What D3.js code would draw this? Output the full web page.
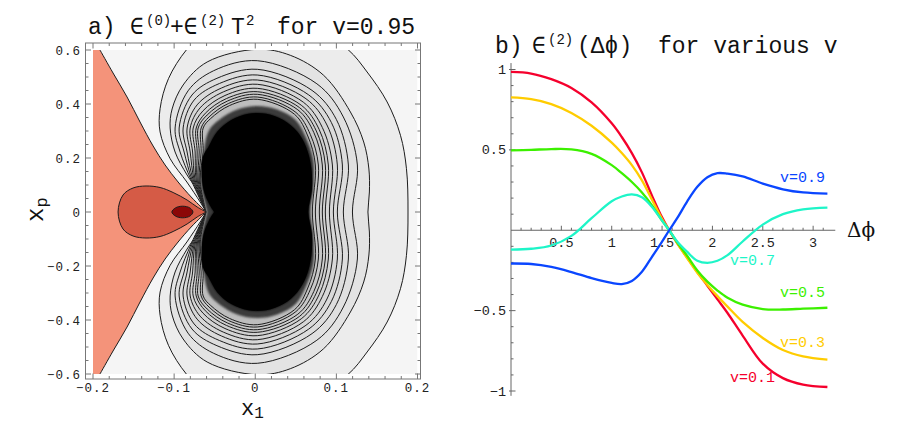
<!DOCTYPE html>
<html><head><meta charset="utf-8">
<script src="https://cdn.jsdelivr.net/npm/d3@7"></script>
<style>body{margin:0;background:#fff}svg{display:block}</style>
</head><body>
<svg id="c" width="900" height="428"></svg>
<script>
// ================= DATA =================
// Panel b: epsilon^(2)(delta phi) for various v
const phi   = [0,0.2,0.4,0.6,0.8,1.0,1.1,1.2,1.3,1.4,1.5,1.5708,1.65,1.75,1.85,1.95,2.05,2.15,2.3,2.5,2.7,2.9,3.1416];
const eps01 = [0.985,0.975,0.94,0.885,0.795,0.665,0.58,0.48,0.36,0.215,0.08,0,-0.08,-0.17,-0.26,-0.345,-0.43,-0.515,-0.655,-0.83,-0.92,-0.96,-0.975];
const eps03 = [0.826,0.815,0.785,0.73,0.65,0.545,0.48,0.405,0.31,0.19,0.07,0,-0.08,-0.175,-0.265,-0.34,-0.41,-0.475,-0.57,-0.67,-0.745,-0.785,-0.805];
const eps05 = [0.497,0.5,0.505,0.503,0.475,0.405,0.355,0.3,0.235,0.155,0.06,0,-0.075,-0.16,-0.25,-0.32,-0.375,-0.42,-0.463,-0.49,-0.493,-0.488,-0.482];
const eps07 = [-0.12,-0.115,-0.095,-0.035,0.075,0.18,0.21,0.223,0.205,0.145,0.06,0,-0.07,-0.135,-0.19,-0.203,-0.19,-0.155,-0.07,0.035,0.1,0.13,0.141];
const eps09 = [-0.207,-0.21,-0.228,-0.26,-0.298,-0.328,-0.335,-0.315,-0.258,-0.165,-0.07,0,0.075,0.18,0.27,0.33,0.355,0.352,0.335,0.29,0.255,0.235,0.228];
const seriesNames = ["v=0.1","v=0.3","v=0.5","v=0.7","v=0.9"];
const labelPhi = [2.175,2.671,2.671,2.175,2.671];
const labelVal = [-0.946,-0.729,-0.418,-0.217,0.3];
const xTicksB = [0.5,1,1.5,2,2.5,3];
const xTickLabelsB = ["0.5","1","1.5","2","2.5","3"];
const yTicksB = [-1,-0.5,0.5,1];
const yTickLabelsB = ["\u22121","\u22120.5","0.5","1"];

// Panel a: traced contour lines of eps0+eps2 T^2 (v=0.95), upper halves [x1, xp]; the plot is mirror-symmetric in xp
const salmonEdge = [[-0.1914,0.6],[-0.1753,0.5148],[-0.158,0.4259],[-0.142,0.3333],[-0.1259,0.2444],[-0.1111,0.1741],[-0.0951,0.1111],[-0.079,0.0556],[-0.0667,0.0185],[-0.0605,0]];
const teardrop = [[-0.0605,0],[-0.0716,0.0185],[-0.084,0.0444],[-0.1012,0.0722],[-0.1173,0.0907],[-0.1346,0.0963],[-0.1506,0.0889],[-0.163,0.063],[-0.1691,0]];
const minimum = [[-0.0768,0],[-0.0806,0.0152],[-0.0895,0.0215],[-0.0984,0.0152],[-0.1028,0],[-0.0984,-0.0152],[-0.0895,-0.0215],[-0.0806,-0.0152]];
const contour1 = [[-0.0605,0],[-0.0679,0.037],[-0.0843,0.1111],[-0.1049,0.1974],[-0.1173,0.2963],[-0.1173,0.3826],[-0.107,0.4937],[-0.0843,0.6026],[-0.0494,0.7037],[0.0025,0.7333],[0.0617,0.7037],[0.114,0.6026],[0.1379,0.5185],[0.1626,0.4074],[0.179,0.2841],[0.1864,0.1604],[0.1883,0]];
const contour2 = [[-0.0605,0],[-0.0642,0.0481],[-0.084,0.137],[-0.0988,0.2222],[-0.1049,0.3111],[-0.1025,0.3815],[-0.0889,0.4704],[-0.0593,0.5556],[0.0025,0.6026],[0.0432,0.5804],[0.0843,0.5063],[0.1173,0.3704],[0.1337,0.2593],[0.1401,0.1593],[0.1407,0.0741],[0.1389,0]];
const contour3 = [[-0.0605,0],[-0.079,0.1185],[-0.0926,0.2222],[-0.0988,0.3111],[-0.0828,0.4489],[-0.0515,0.523],[0.0025,0.5604],[0.076,0.4748],[0.1086,0.3519],[0.1259,0.1741],[0.1198,0]];
const contour4 = [[-0.0605,0],[-0.0778,0.1185],[-0.0877,0.2222],[-0.0938,0.3111],[-0.078,0.4333],[-0.0472,0.4952],[0.0025,0.5285],[0.07,0.4504],[0.1,0.3426],[0.1148,0.1741],[0.1086,0]];
const contour5 = [[-0.0605,0],[-0.0765,0.1185],[-0.084,0.2222],[-0.0889,0.3111],[-0.0753,0.4148],[-0.0442,0.4759],[0.0025,0.5074],[0.0659,0.4337],[0.0938,0.3315],[0.1074,0.1741],[0.1012,0]];
const contour6 = [[-0.0605,0],[-0.0753,0.1185],[-0.0802,0.2222],[-0.084,0.3111],[-0.0717,0.3967],[-0.0416,0.4593],[0.0025,0.4889],[0.0625,0.4196],[0.0884,0.3222],[0.1012,0.1741],[0.0963,0]];
const contour7 = [[-0.0605,0],[-0.0741,0.1185],[-0.0772,0.2222],[-0.0802,0.3111],[-0.068,0.3856],[-0.0394,0.4448],[0.0025,0.473],[0.0593,0.4067],[0.0827,0.313],[0.0951,0.1741],[0.0914,0]];
const contour8 = [[-0.0605,0],[-0.0728,0.1185],[-0.0741,0.2222],[-0.0765,0.3111],[-0.0644,0.3748],[-0.0373,0.4315],[0.0025,0.4581],[0.0567,0.3956],[0.0788,0.3056],[0.0901,0.1741],[0.0864,0]];
const contour9 = [[-0.0605,0],[-0.0716,0.1185],[-0.0716,0.2222],[-0.0728,0.3111],[-0.0615,0.3659],[-0.0356,0.42],[0.0025,0.4456],[0.0544,0.387],[0.0753,0.3],[0.0864,0.1741],[0.0827,0]];
const contour10 = [[-0.0605,0],[-0.0704,0.1185],[-0.0691,0.2222],[-0.0704,0.3111],[-0.0593,0.3593],[-0.0342,0.4111],[0.0025,0.4359],[0.0525,0.3785],[0.0722,0.2944],[0.0827,0.1741],[0.079,0]];
const contour11 = [[-0.0605,0],[-0.0691,0.1185],[-0.0667,0.2222],[-0.0667,0.3111],[-0.0569,0.3522],[-0.0328,0.4022],[0.0025,0.4259],[0.0501,0.3689],[0.0679,0.287],[0.0778,0.1741],[0.0741,0]];
const contour12 = [[-0.0605,0],[-0.0679,0.1185],[-0.0642,0.2222],[-0.0642,0.3111],[-0.0549,0.3463],[-0.0316,0.3944],[0.0025,0.4174],[0.0484,0.3619],[0.0648,0.2815],[0.0741,0.1741],[0.0704,0]];
const denseZone = [[-0.0593,0],[-0.063,0.0444],[-0.0667,0.1185],[-0.0636,0.1926],[-0.0623,0.2481],[-0.0568,0.3037],[-0.0444,0.3415],[-0.0222,0.3793],[0.0025,0.3926],[0.0272,0.3793],[0.0494,0.3415],[0.0617,0.2815],[0.0716,0.1926],[0.0716,0.1],[0.0679,0]];
const blackCore = [[-0.0506,0],[-0.0568,0.0296],[-0.0636,0.0815],[-0.066,0.1481],[-0.0642,0.2074],[-0.0579,0.24],[-0.0467,0.2978],[-0.0296,0.3407],[-0.0086,0.3637],[0.0136,0.3637],[0.0346,0.3407],[0.0516,0.2978],[0.0628,0.24],[0.0691,0.163],[0.0698,0.0815],[0.0654,0]];
const xTicksA = [-0.2,-0.1,0,0.1,0.2];
const yTicksA = [-0.6,-0.4,-0.2,0,0.2,0.4,0.6];

// ================= STYLE =================
const MONO = "'Liberation Mono','DejaVu Sans Mono',monospace";
const seriesColors = ["#f5002d","#ffcc00","#3cf000","#1ef5c8","#0a46ff"];
const ringFills = ["#ececec","#e3e3e3","#e0e0e0","#dddddd","#dadada","#d7d7d7","#d4d4d4","#d0d0d0","#cccccc","#c8c8c8","#c3c3c3","#bdbdbd"];

const svg = d3.select("#c");
const defs = svg.append("defs");
defs.append("filter").attr("id","soft").attr("x","-20%").attr("y","-20%").attr("width","140%").attr("height","140%")
  .append("feGaussianBlur").attr("stdDeviation",1.2);

// ================= PANEL A =================
const xA = d3.scaleLinear().domain([-0.2,0.2]).range([93,417.5]);
const yA = d3.scaleLinear().domain([-0.6,0.6]).range([374,50]);
defs.append("clipPath").attr("id","clipA").append("rect")
  .attr("x",xA(-0.2)).attr("y",yA(0.6)).attr("width",xA(0.2)-xA(-0.2)).attr("height",yA(-0.6)-yA(0.6));

const mirrorLoop = up => up.concat(up.slice(0,-1).reverse().map(p=>[p[0],-p[1]]));
const mirrorDown = up => up.slice().reverse().map(p=>[p[0],-p[1]]);
const cline = d3.line().x(d=>xA(d[0])).y(d=>yA(d[1])).curve(d3.curveCatmullRom.alpha(0.5));
const gA = svg.append("g").attr("clip-path","url(#clipA)");

gA.append("rect").attr("x",xA(-0.2)).attr("y",yA(0.6)).attr("width",xA(0.2)-xA(-0.2)).attr("height",yA(-0.6)-yA(0.6)).attr("fill","#f5f5f5");

// salmon (low) region
const upPath = cline(salmonEdge);
const lowPath = cline(mirrorDown(salmonEdge)).replace(/^M/,"L");
gA.append("path")
  .attr("d", `M${xA(-0.2)},${yA(0.6)}L` + upPath.slice(1) + lowPath + `L${xA(-0.2)},${yA(-0.6)}Z`)
  .attr("fill","#f4937a");

// gray rings
const rings = [contour1,contour2,contour3,contour4,contour5,contour6,contour7,contour8,contour9,contour10,contour11,contour12];
rings.forEach((c,i)=>{
  gA.append("path").attr("d",cline(mirrorLoop(c))).attr("fill",ringFills[i])
    .attr("stroke","#1c1c1c").attr("stroke-width",1);
});
gA.append("path").attr("d",cline(mirrorLoop(denseZone))).attr("fill","#3a3a3a").attr("filter","url(#soft)");
gA.append("path").attr("d",cline(mirrorLoop(blackCore))).attr("fill","#000").attr("filter","url(#soft)");
gA.append("path").attr("d",cline(mirrorLoop(blackCore))).attr("fill","#000");

// salmon boundary lines
gA.append("path").attr("d",upPath).attr("fill","none").attr("stroke","#1c1c1c").attr("stroke-width",1);
gA.append("path").attr("d",cline(mirrorDown(salmonEdge))).attr("fill","none").attr("stroke","#1c1c1c").attr("stroke-width",1);
// teardrop & minimum
gA.append("path").attr("d",cline(mirrorLoop(teardrop))+"Z").attr("fill","#d55b46").attr("stroke","#1c1c1c").attr("stroke-width",1);
gA.append("path").attr("d",d3.line().x(d=>xA(d[0])).y(d=>yA(d[1])).curve(d3.curveCatmullRomClosed.alpha(0.5))(minimum))
  .attr("fill","#8c0707").attr("stroke","#1c1c1c").attr("stroke-width",1);

// frame & ticks
const fA = {l:85.5, r:420.5, t:43, b:379};
const frameCol = "#777";
svg.append("rect").attr("x",fA.l).attr("y",fA.t).attr("width",fA.r-fA.l).attr("height",fA.b-fA.t)
  .attr("fill","none").attr("stroke",frameCol).attr("stroke-width",1);
const tk = svg.append("g").attr("stroke",frameCol).attr("stroke-width",1);
d3.range(-0.2,0.2001,0.02).forEach(v=>{
  const major = xTicksA.some(t=>Math.abs(t-v)<1e-6), L = major?5.5:3;
  tk.append("line").attr("x1",xA(v)).attr("x2",xA(v)).attr("y1",fA.b).attr("y2",fA.b-L);
  tk.append("line").attr("x1",xA(v)).attr("x2",xA(v)).attr("y1",fA.t).attr("y2",fA.t+L);
});
d3.range(-0.6,0.6001,0.05).forEach(v=>{
  const major = yTicksA.some(t=>Math.abs(t-v)<1e-6), L = major?5.5:3;
  tk.append("line").attr("y1",yA(v)).attr("y2",yA(v)).attr("x1",fA.l).attr("x2",fA.l+L);
  tk.append("line").attr("y1",yA(v)).attr("y2",yA(v)).attr("x1",fA.r).attr("x2",fA.r-L);
});
const fmtA = v => v===0 ? "0" : (v<0?"\u2212":"") + String(Math.abs(v));
svg.append("g").selectAll("text").data(xTicksA).join("text")
  .attr("x",d=>xA(d)).attr("y",392).attr("text-anchor","middle")
  .attr("font-family",MONO).attr("font-size",12.5).attr("letter-spacing",1).attr("fill","#222").text(fmtA);
svg.append("g").selectAll("text").data(yTicksA).join("text")
  .attr("x",81).attr("y",d=>yA(d)+4.5).attr("text-anchor","end")
  .attr("font-family",MONO).attr("font-size",12.5).attr("letter-spacing",1).attr("fill","#222").text(fmtA);

// axis labels
const xl = svg.append("text").attr("x",241).attr("y",415).attr("font-family",MONO).attr("font-size",22).attr("fill","#111");
xl.append("tspan").text("x");
xl.append("tspan").attr("font-size",16).attr("dy",3).text("1");
const yl = svg.append("text").attr("transform","translate(43,222) rotate(-90)").attr("font-family",MONO).attr("font-size",24).attr("fill","#111");
yl.append("tspan").text("x");
yl.append("tspan").attr("font-size",17).attr("dy",4).text("p");

// title a
const ta = svg.append("text").attr("y",33.5).attr("font-family",MONO).attr("font-size",23).attr("fill","#111");
ta.append("tspan").attr("x",88).text("a)");
ta.append("tspan").attr("x",130).text("\u2208");
ta.append("tspan").attr("x",146).attr("dy",-9).attr("font-size",14).text("(0)");
ta.append("tspan").attr("x",170).attr("dy",9).text("+\u2208");
ta.append("tspan").attr("x",200).attr("dy",-9).attr("font-size",14).text("(2)");
ta.append("tspan").attr("x",231).attr("dy",9).text("T");
ta.append("tspan").attr("x",246).attr("dy",-9).attr("font-size",14).text("2");
ta.append("tspan").attr("x",277).attr("dy",9).text("for v=0.95");

// ================= PANEL B =================
const xB = d3.scaleLinear().domain([0,Math.PI]).range([511,827.4]);
const yB = d3.scaleLinear().domain([-1,1]).range([391,69.5]);
const axCol = "#666";
const gB = svg.append("g");
gB.append("line").attr("x1",xB(0)).attr("x2",xB(3.22)).attr("y1",yB(0)).attr("y2",yB(0)).attr("stroke",axCol);
gB.append("line").attr("x1",xB(0)).attr("x2",xB(0)).attr("y1",yB(1.04)).attr("y2",yB(-1.03)).attr("stroke",axCol);
d3.range(0.1,3.15,0.1).forEach(v=>{
  const major = xTicksB.some(t=>Math.abs(t-v)<1e-6), L = major?4.5:2.5;
  gB.append("line").attr("x1",xB(v)).attr("x2",xB(v)).attr("y1",yB(0)).attr("y2",yB(0)-L).attr("stroke",axCol);
});
d3.range(-1,1.0001,0.1).forEach(v=>{
  if (Math.abs(v)<1e-6) return;
  const major = yTicksB.some(t=>Math.abs(t-v)<1e-6), L = major?4.5:2.5;
  gB.append("line").attr("y1",yB(v)).attr("y2",yB(v)).attr("x1",xB(0)-(major?2:0)).attr("x2",xB(0)+L).attr("stroke",axCol);
});
gB.append("g").selectAll("text").data(xTicksB).join("text")
  .attr("x",d=>xB(d)).attr("y",yB(0)+16.5).attr("text-anchor","middle")
  .attr("font-family",MONO).attr("font-size",13.5).attr("fill","#222").text((d,i)=>xTickLabelsB[i]);
gB.append("g").selectAll("text").data(yTicksB).join("text")
  .attr("x",xB(0)-5).attr("y",d=>yB(d)+4.5).attr("text-anchor","end")
  .attr("font-family",MONO).attr("font-size",13.5).attr("fill","#222").text((d,i)=>yTickLabelsB[i]);

const lineB = d3.line().x((d,i)=>xB(phi[i])).y(d=>yB(d)).curve(d3.curveCatmullRom.alpha(0.5));
[eps01,eps03,eps05,eps07,eps09].forEach((s,k)=>{
  gB.append("path").attr("d",lineB(s)).attr("fill","none").attr("stroke",seriesColors[k]).attr("stroke-width",2.3);
});
gB.append("g").selectAll("text").data(seriesNames).join("text")
  .attr("x",(d,i)=>xB(labelPhi[i])).attr("y",(d,i)=>yB(labelVal[i]))
  .attr("font-family",MONO).attr("font-size",15).attr("fill",(d,i)=>seriesColors[i]).text(d=>d);

// axis label delta phi
svg.append("text").attr("x",847).attr("y",237).attr("font-family","'DejaVu Serif','Liberation Serif',serif")
  .attr("font-size",20).attr("fill","#111").text("\u0394\u03d5");

// title b
const tb = svg.append("text").attr("y",53).attr("font-family",MONO).attr("font-size",23).attr("fill","#111");
tb.append("tspan").attr("x",495).text("b)");
tb.append("tspan").attr("x",532).text("\u2208");
tb.append("tspan").attr("x",548).attr("dy",-9).attr("font-size",14).text("(2)");
tb.append("tspan").attr("x",577).attr("dy",9).text("(\u0394\u03d5)");
tb.append("tspan").attr("x",658).text("for various v");
</script>
</body></html>
